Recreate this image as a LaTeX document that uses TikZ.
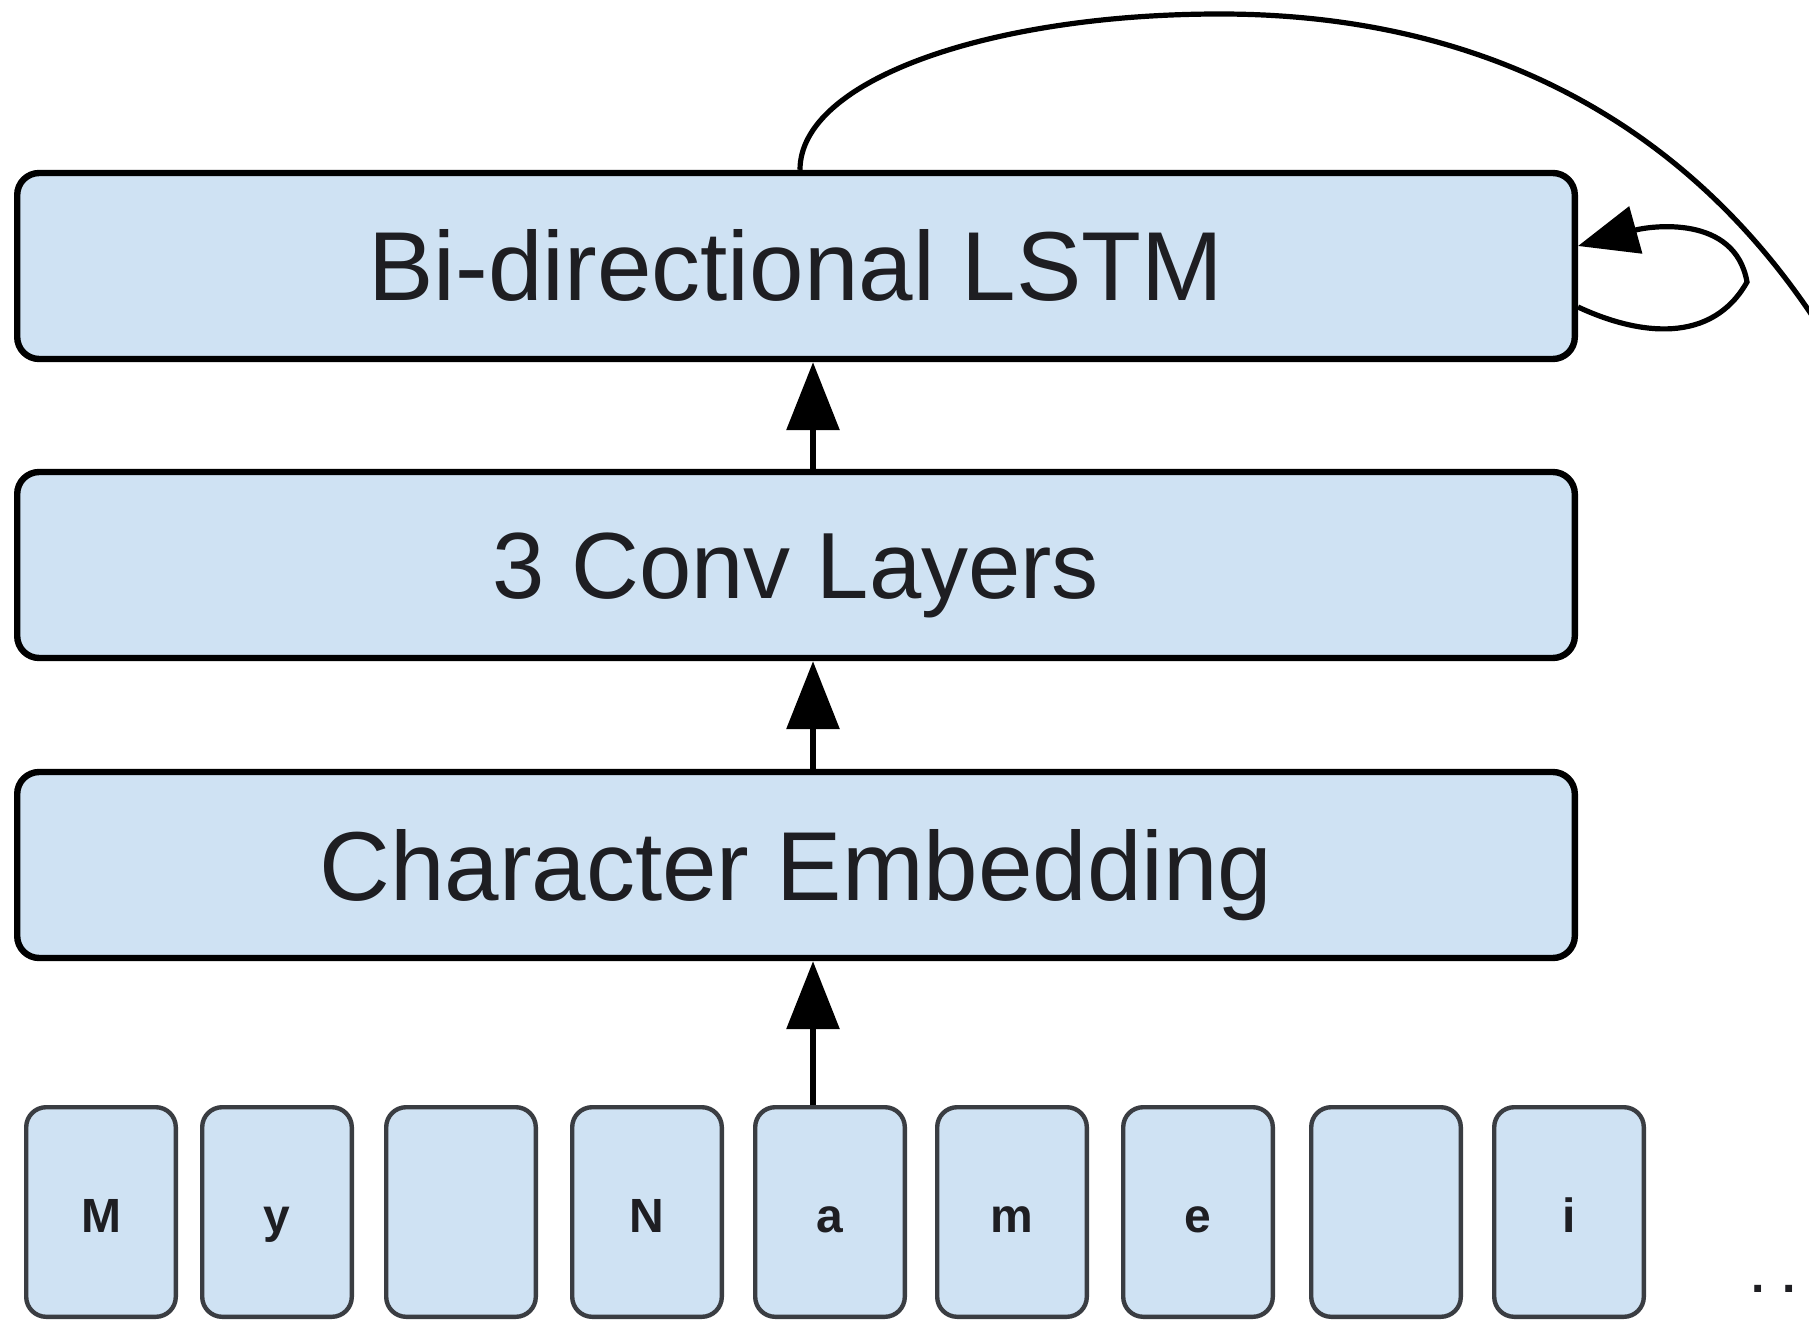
\documentclass[tikz,border=0pt]{standalone}
\usepackage{fontspec}
\setmainfont{Liberation Sans}
\usetikzlibrary{arrows.meta}
\definecolor{boxfill}{HTML}{CFE2F3}
\definecolor{ink}{HTML}{1E1E22}
\definecolor{cellline}{HTML}{3A3D42}
\begin{document}
\begin{tikzpicture}[x=0.5pt,y=-0.5pt,
  layer/.style={draw=black, line width=3.2pt, fill=boxfill, rounded corners=11pt,
    minimum width=778.8pt, minimum height=93pt, inner sep=0pt, text=ink,
    font=\fontsize{49}{55}\selectfont, text height=35pt, text depth=0pt},
  cell/.style={draw=cellline, line width=2.2pt, fill=boxfill, rounded corners=10pt,
    minimum width=74.8pt, minimum height=104.8pt, inner sep=0pt, text=ink,
    font=\fontsize{24}{28}\selectfont\bfseries, text height=20pt, text depth=0pt},
  uparrow/.style={line width=3.2pt, -{Triangle[length=34pt,width=26pt]}},
  link/.style={line width=2.6pt}]

\useasboundingbox (0,0) rectangle (1809,1326);
\clip (0,0) rectangle (1809,1326);

% stacked layers
\node[layer] (lstm) at (796,266) {Bi-directional LSTM};
\node[layer, font=\fontsize{47}{53}\selectfont, text height=33.6pt] (conv) at (796,565) {3 Conv Layers};
\node[layer] (emb) at (796,865) {Character Embedding};

% input characters
\node[cell] (c1) at (101,1212) {M};
\node[cell] (c2) at (277,1212) {y};
\node[cell] (c3) at (461,1212) {};
\node[cell] (c4) at (647,1212) {N};
\node[cell] (c5) at (830,1212) {a};
\node[cell] (c6) at (1012,1212) {m};
\node[cell] (c7) at (1198,1212) {e};
\node[cell] (c8) at (1386,1212) {};
\node[cell] (c9) at (1569,1212) {i};
\node[anchor=base west, text=ink, font=\fontsize{24}{28}\selectfont\bfseries, inner sep=0pt]
  (more) at (1751,1292) {.\hspace{9pt}.};

% upward flow
\coordinate (shaft) at (813,0);
\draw[uparrow] (shaft |- c5.north) -- (shaft |- emb.south);
\draw[uparrow] (shaft |- emb.north) -- (shaft |- conv.south);
\draw[uparrow] (shaft |- conv.north) -- (shaft |- lstm.south);

% output leaving to the right
\coordinate (rise) at (800,0);
\coordinate (away) at (1840,360);
\draw[link] (rise |- lstm.north) .. controls (800,80) and (990,14) .. (1220,14)
  .. controls (1480,14) and (1700,120) .. (away);

% recurrent self loop
\coordinate (loopout) at (0,307);
\coordinate (loopin) at (0,246);
\draw[link, -{Triangle[length=30pt,width=24pt]}] (lstm.east |- loopout)
  .. controls (1640,336) and (1712,344) .. (1747,282)
  .. controls (1735,214) and (1650,226) .. (lstm.east |- loopin);
\end{tikzpicture}
\end{document}
